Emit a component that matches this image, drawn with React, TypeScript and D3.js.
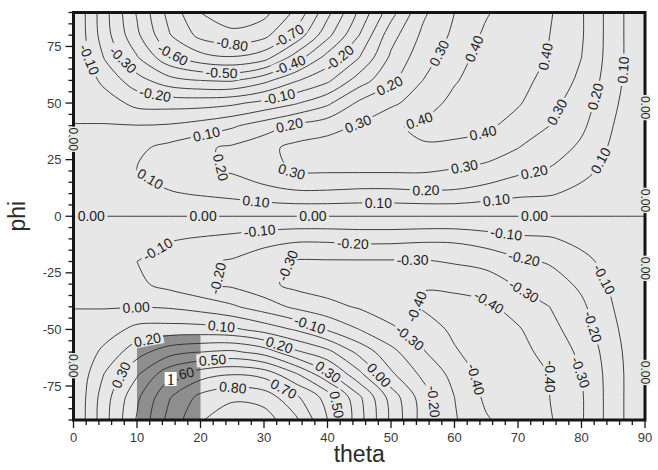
import * as d3 from 'd3'
import { useMemo } from 'react'

const WIDTH = 658
const HEIGHT = 470
const MARGIN = { left: 73.5, right: 13, top: 12.5, bottom: 50 }
const BG = '#e7e7e7'
const REGION_FILL = '#8e8e8e'
const LABEL_FONT = 14
const FONT = '"Liberation Sans", Arial, Helvetica, sans-serif'

type Pt = [number, number]

// grid the field was read on (theta across, phi down the rows)
const thetaGrid = [0, 5, 10, 15, 20, 25, 30, 35, 40, 45, 50, 55, 60, 65, 70, 75, 80, 85, 90]
const phiGrid = [90, 80, 70, 60, 50, 40, 30, 20, 10, 0, -10, -20, -30, -40, -50, -60, -70, -80, -90]

const rowP90 = [0, -0.27, -0.51, -0.73, -0.9, -0.97, -0.93, -0.78, -0.53, -0.28, -0.04, 0.18, 0.3, 0.39, 0.46, 0.41, 0.31, 0.15, 0]
const rowP80 = [0, -0.26, -0.48, -0.69, -0.83, -0.87, -0.83, -0.67, -0.43, -0.2, 0.06, 0.22, 0.32, 0.42, 0.46, 0.4, 0.31, 0.15, 0]
const rowP70 = [0, -0.21, -0.39, -0.57, -0.66, -0.69, -0.64, -0.45, -0.26, -0.1, 0.12, 0.26, 0.35, 0.45, 0.46, 0.39, 0.3, 0.15, 0]
const rowP60 = [0, -0.13, -0.26, -0.36, -0.4, -0.41, -0.33, -0.21, -0.12, 0.05, 0.18, 0.3, 0.39, 0.46, 0.44, 0.36, 0.28, 0.14, 0]
const rowP50 = [0, -0.05, -0.13, -0.14, -0.14, -0.12, -0.07, -0.01, 0.08, 0.22, 0.28, 0.35, 0.43, 0.45, 0.41, 0.33, 0.25, 0.12, 0]
const rowP40 = [0, 0.005, 0.003, 0.01, 0.04, 0.085, 0.15, 0.22, 0.26, 0.31, 0.385, 0.42, 0.43, 0.42, 0.36, 0.3, 0.22, 0.1, 0]
const rowP30 = [0, 0.05, 0.08, 0.13, 0.18, 0.22, 0.27, 0.33, 0.35, 0.37, 0.38, 0.39, 0.38, 0.35, 0.3, 0.25, 0.18, 0.08, 0]
const rowP20 = [0, 0.06, 0.1, 0.15, 0.18, 0.21, 0.26, 0.31, 0.31, 0.31, 0.31, 0.31, 0.29, 0.27, 0.22, 0.19, 0.13, 0.06, 0]
const rowP10 = [0, 0.04, 0.06, 0.09, 0.11, 0.13, 0.16, 0.18, 0.18, 0.17, 0.17, 0.18, 0.18, 0.15, 0.12, 0.11, 0.07, 0.03, 0]
const rowZero = [0, 0, 0, 0, 0, 0, 0, 0, 0, 0, 0, 0, 0, 0, 0, 0, 0, 0, 0]
const rowM10 = [0, -0.04, -0.06, -0.09, -0.11, -0.13, -0.16, -0.18, -0.18, -0.17, -0.17, -0.18, -0.18, -0.15, -0.12, -0.11, -0.07, -0.03, 0]
const rowM20 = [0, -0.06, -0.1, -0.15, -0.18, -0.21, -0.26, -0.31, -0.31, -0.31, -0.31, -0.31, -0.29, -0.27, -0.22, -0.19, -0.13, -0.06, 0]
const rowM30 = [0, -0.05, -0.08, -0.13, -0.18, -0.22, -0.27, -0.33, -0.35, -0.37, -0.38, -0.395, -0.38, -0.35, -0.29, -0.25, -0.18, -0.08, 0]
const rowM40 = [0, -0.005, -0.003, -0.01, -0.04, -0.085, -0.15, -0.22, -0.27, -0.31, -0.36, -0.41, -0.43, -0.42, -0.36, -0.3, -0.22, -0.1, 0]
const rowM50 = [0, 0.05, 0.13, 0.14, 0.14, 0.12, 0.06, -0.01, -0.11, -0.2, -0.28, -0.35, -0.42, -0.45, -0.41, -0.33, -0.25, -0.12, 0]
const rowM60 = [0, 0.13, 0.26, 0.36, 0.4, 0.42, 0.36, 0.22, 0.13, -0.03, -0.17, -0.29, -0.39, -0.45, -0.44, -0.36, -0.28, -0.14, 0]
const rowM70 = [0, 0.21, 0.39, 0.57, 0.66, 0.7, 0.67, 0.52, 0.33, 0.13, -0.08, -0.22, -0.33, -0.44, -0.46, -0.4, -0.3, -0.15, 0]
const rowM80 = [0, 0.26, 0.48, 0.69, 0.83, 0.88, 0.86, 0.72, 0.56, 0.32, 0.06, -0.15, -0.3, -0.42, -0.46, -0.4, -0.31, -0.15, 0]
const rowM90 = [0, 0.27, 0.51, 0.73, 0.89, 0.97, 0.95, 0.82, 0.6, 0.34, 0.08, -0.14, -0.29, -0.39, -0.45, -0.41, -0.31, -0.15, 0]

const field = [
  rowP90, rowP80, rowP70, rowP60, rowP50, rowP40, rowP30, rowP20, rowP10, rowZero,
  rowM10, rowM20, rowM30, rowM40, rowM50, rowM60, rowM70, rowM80, rowM90,
]

const contourLevels = [-0.9, -0.8, -0.7, -0.6, -0.5, -0.4, -0.3, -0.2, -0.1, 0, 0.1, 0.2, 0.3, 0.4, 0.5, 0.6, 0.7, 0.8, 0.9]

// [level, theta, phi] where the inline labels sit
const lineLabels: [number, number, number][] = [
  [-0.1, 2.3, 69], [-0.3, 7.5, 68.3], [-0.6, 15.6, 71.2], [-0.8, 25, 75.8], [-0.5, 23.3, 63.2],
  [-0.2, 12.8, 52.8], [-0.7, 34, 79.3], [-0.4, 34.3, 65.4], [-0.2, 42.7, 67.4], [-0.1, 32.4, 52.8],
  [0.1, 20.9, 36.7], [0.2, 34, 40.3], [0.2, 50, 56.4], [0.3, 44.8, 40.9], [0.3, 58.7, 70.5],
  [0.4, 54.5, 42], [0.4, 64.2, 72.7], [0.4, 74.4, 70.5], [0.4, 64.6, 35.5], [0.3, 76.5, 45.5],
  [0.2, 82.3, 52.8], [0.1, 86.8, 64.6], [0.3, 61.6, 21.3], [0.2, 72.6, 19], [0.1, 82.8, 24.9],
  [0.1, 66.6, 7.2], [0.2, 55.5, 11.6], [0.1, 48, 5], [0.3, 34.5, 21.3], [0.2, 21.4, 20.4],
  [0.1, 11.7, 14.6], [0.1, 28.7, 5.7],
  [0, 2.8, 0], [0, 20.4, 0], [0, 37.7, 0], [0, 72.6, 0],
  [-0.1, 13, -13.4], [-0.2, 21.7, -26.7], [0, 9.9, -41.4], [0.1, 23.3, -48.8], [0.2, 11.7, -55.4],
  [0.5, 21.9, -63.5], [0.3, 7.5, -70.1], [0.6, 16.8, -69], [0.8, 25.1, -75.3], [-0.1, 29.3, -6],
  [-0.2, 44, -11.2], [-0.3, 34.8, -23], [-0.3, 53.4, -19.3], [-0.4, 54, -39.9], [-0.1, 37.2, -48],
  [-0.3, 52.9, -53.9], [0.2, 32.5, -56.1], [0.3, 40.3, -67.9], [0, 48.7, -68.6], [0.7, 33, -76.7],
  [0.5, 41.3, -83.3], [-0.2, 56.9, -81.9], [-0.1, 68.1, -9], [-0.2, 70.8, -20.8], [-0.3, 71, -32.6],
  [-0.4, 65, -39.9], [-0.1, 83.4, -28.1], [-0.2, 81.8, -48.8], [-0.3, 79.4, -69.4], [-0.4, 74.2, -70.8],
  [-0.4, 63.9, -71.6],
]

// zero contour labels that sit on the frame [theta, phi]
const edgeLabels: Pt[] = [[0, 34], [0, -66], [90, 48], [90, 7], [90, -23], [90, -69]]

const regionTheta = [10, 20]
const regionPhi = [-90, -52.4]
const regionTag = { text: '1', theta: 15.3, phi: -71.9 }

const yTickValues = [-75, -50, -25, 0, 25, 50, 75]

const charWidth = (c: string) => (c === '.' ? 0.278 : c === '-' ? 0.333 : 0.556)
const textWidth = (s: string, size: number) => s.split('').reduce((a, c) => a + charWidth(c), 0) * size

// the zero level lies on grid lines; tip the exact zeros so the tracer keeps it on them
function zeroSafe(grid: number[][]) {
  const g = grid.map((row) => row.map((v) => (v === 0 ? -1e-6 : v)))
  const last = g[0].length - 1
  g.forEach((row) => {
    row[0] = row[1] * 1e-4
    row[last] = row[last - 1] * 1e-4
  })
  return g
}

// marching squares, segments chained into polylines
function isolines(grid: number[][], level: number) {
  const ny = grid.length
  const nx = grid[0].length
  const pos = new Map<string, Pt>()
  const segs: [string, string][] = []
  const inside = (v: number) => v >= level
  const edge = (key: string, i0: number, j0: number, i1: number, j1: number) => {
    if (!pos.has(key)) {
      const v0 = grid[j0][i0]
      const v1 = grid[j1][i1]
      const t = (level - v0) / (v1 - v0)
      pos.set(key, [
        thetaGrid[i0] + t * (thetaGrid[i1] - thetaGrid[i0]),
        phiGrid[j0] + t * (phiGrid[j1] - phiGrid[j0]),
      ])
    }
    return key
  }
  for (let j = 0; j < ny - 1; j++) {
    for (let i = 0; i < nx - 1; i++) {
      const a = grid[j][i]
      const b = grid[j][i + 1]
      const c = grid[j + 1][i + 1]
      const d = grid[j + 1][i]
      const ia = inside(a)
      const ib = inside(b)
      const ic = inside(c)
      const id = inside(d)
      const eAB = ia !== ib ? edge(`h${i},${j}`, i, j, i + 1, j) : null
      const eBC = ib !== ic ? edge(`v${i + 1},${j}`, i + 1, j, i + 1, j + 1) : null
      const eCD = ic !== id ? edge(`h${i},${j + 1}`, i, j + 1, i + 1, j + 1) : null
      const eDA = id !== ia ? edge(`v${i},${j}`, i, j, i, j + 1) : null
      const es = [eAB, eBC, eCD, eDA].filter((e): e is string => e !== null)
      if (es.length === 2) segs.push([es[0], es[1]])
      else if (es.length === 4) {
        const center = inside((a + b + c + d) / 4)
        if (ia === center) segs.push([eAB!, eBC!], [eCD!, eDA!])
        else segs.push([eDA!, eAB!], [eBC!, eCD!])
      }
    }
  }
  const adj = new Map<string, number[]>()
  segs.forEach(([p, q], k) => {
    for (const e of [p, q]) {
      if (!adj.has(e)) adj.set(e, [])
      adj.get(e)!.push(k)
    }
  })
  const used = segs.map(() => false)
  const walk = (start: string) => {
    const keys = [start]
    let cur = start
    for (;;) {
      const k = adj.get(cur)!.find((s) => !used[s])
      if (k === undefined) break
      used[k] = true
      cur = segs[k][0] === cur ? segs[k][1] : segs[k][0]
      keys.push(cur)
    }
    return keys
  }
  const out: { pts: Pt[]; closed: boolean }[] = []
  adj.forEach((list, key) => {
    if (list.length === 1 && !used[list[0]]) {
      out.push({ pts: walk(key).map((k) => pos.get(k)!), closed: false })
    }
  })
  segs.forEach((s, k) => {
    if (!used[k]) {
      const keys = walk(s[0]).slice(0, -1)
      out.push({ pts: keys.map((kk) => pos.get(kk)!), closed: true })
    }
  })
  return out
}

export default function App() {
  const innerW = WIDTH - MARGIN.left - MARGIN.right
  const innerH = HEIGHT - MARGIN.top - MARGIN.bottom
  const x = d3.scaleLinear([0, 90], [MARGIN.left, MARGIN.left + innerW])
  const y = d3.scaleLinear([-90, 90], [MARGIN.top + innerH, MARGIN.top])

  const { paths, labels } = useMemo(() => {
    const safe = zeroSafe(field)
    const open = d3.line<Pt>().x((p) => x(p[0])).y((p) => y(p[1])).curve(d3.curveCatmullRom.alpha(0.5))
    const closed = d3.line<Pt>().x((p) => x(p[0])).y((p) => y(p[1])).curve(d3.curveCatmullRomClosed.alpha(0.5))
    const byLevel = new Map<number, { pts: Pt[]; closed: boolean }[]>()
    const paths: string[] = []
    contourLevels.forEach((lv) => {
      const lines = lv === 0 ? isolines(safe, 0) : isolines(field, lv + 1e-7)
      byLevel.set(lv, lines)
      lines.forEach((l) => {
        if (l.pts.length < 2) return
        paths.push((l.closed ? closed : open)(l.pts) || '')
      })
    })

    const labels = lineLabels.map(([lv, th, ph]) => {
      const px = x(th)
      const py = y(ph)
      let best = { d: Infinity, x: px, y: py, angle: 0 }
      ;(byLevel.get(lv) || []).forEach((l) => {
        const pp = l.pts.map((p) => [x(p[0]), y(p[1])])
        const n = l.closed ? pp.length : pp.length - 1
        for (let k = 0; k < n; k++) {
          const [x0, y0] = pp[k]
          const [x1, y1] = pp[(k + 1) % pp.length]
          const dx = x1 - x0
          const dy = y1 - y0
          const len2 = dx * dx + dy * dy || 1
          const t = Math.max(0, Math.min(1, ((px - x0) * dx + (py - y0) * dy) / len2))
          const qx = x0 + t * dx
          const qy = y0 + t * dy
          const d = Math.hypot(px - qx, py - qy)
          if (d < best.d) {
            let angle = (Math.atan2(dy, dx) * 180) / Math.PI
            if (angle > 90) angle -= 180
            if (angle <= -90) angle += 180
            best = { d, x: qx, y: qy, angle }
          }
        }
      })
      const text = lv.toFixed(2)
      const inRegion =
        th > regionTheta[0] + 2 && th < regionTheta[1] - 2 && ph > regionPhi[0] && ph < regionPhi[1] - 6
      return { ...best, text, w: textWidth(text, LABEL_FONT) + 5, fill: inRegion ? REGION_FILL : BG }
    })
    return { paths, labels }
  }, [])

  const xMajor = x.ticks(10)
  const xMinor = x.ticks(45)
  const yMinor = y.ticks(36)

  return (
    <svg
      width={WIDTH}
      height={HEIGHT}
      style={{ position: 'absolute', left: 0, top: 0, background: '#fff' }}
      fontFamily={FONT}
    >
      <defs>
        <clipPath id="plot-clip">
          <rect x={MARGIN.left} y={MARGIN.top} width={innerW} height={innerH} />
        </clipPath>
      </defs>
      <rect x={MARGIN.left} y={MARGIN.top} width={innerW} height={innerH} fill={BG} />
      <rect
        x={x(regionTheta[0])}
        y={y(regionPhi[1])}
        width={x(regionTheta[1]) - x(regionTheta[0])}
        height={y(regionPhi[0]) - y(regionPhi[1])}
        fill={REGION_FILL}
      />
      <g clipPath="url(#plot-clip)" fill="none" stroke="#2b2b2b" strokeWidth={0.9}>
        {paths.map((d, i) => (
          <path key={i} d={d} />
        ))}
      </g>
      <g clipPath="url(#plot-clip)">
        {labels.map((l, i) => (
          <g key={i} transform={`translate(${l.x},${l.y}) rotate(${l.angle})`}>
            <rect x={-l.w / 2} y={-6.5} width={l.w} height={13} fill={l.fill} />
            <text textAnchor="middle" dy="0.36em" fontSize={LABEL_FONT} fill="#1e1e1e">
              {l.text}
            </text>
          </g>
        ))}
      </g>
      <g transform={`translate(${x(regionTag.theta)},${y(regionTag.phi)})`}>
        <rect x={-6} y={-7} width={12} height={14} fill="#fff" />
        <text textAnchor="middle" dy="0.35em" fontSize={16} fontFamily='"Liberation Serif", "Times New Roman", serif' fill="#111">
          {regionTag.text}
        </text>
      </g>
      <rect
        x={MARGIN.left}
        y={MARGIN.top}
        width={innerW}
        height={innerH}
        fill="none"
        stroke="#151515"
        strokeWidth={3}
      />
      <g stroke="#151515" strokeWidth={1.3}>
        {xMinor.map((t) => (
          <line key={`xm${t}`} x1={x(t)} x2={x(t)} y1={y(-90)} y2={y(-90) + (t % 10 === 0 ? 8 : 5)} />
        ))}
        {yMinor.map((t) => (
          <line
            key={`ym${t}`}
            x1={x(0)}
            x2={x(0) - (yTickValues.includes(t) ? 8 : 5)}
            y1={y(t)}
            y2={y(t)}
          />
        ))}
      </g>
      <g fontSize={13} fill="#3a3a3a">
        {xMajor.map((t) => (
          <text key={`xl${t}`} x={x(t)} y={y(-90) + 22} textAnchor="middle">
            {t}
          </text>
        ))}
        {yTickValues.map((t) => (
          <text key={`yl${t}`} x={x(0) - 12} y={y(t)} dy="0.35em" textAnchor="end">
            {t}
          </text>
        ))}
      </g>
      <text x={x(45)} y={462} textAnchor="middle" fontSize={23} fill="#2a2a2a">
        theta
      </text>
      <text
        transform={`translate(25,${y(0)}) rotate(-90)`}
        textAnchor="middle"
        fontSize={23}
        fill="#2a2a2a"
      >
        phi
      </text>
      {edgeLabels.map(([th, ph], i) => {
        const w = textWidth('0.00', 12) + 2
        return (
          <g key={`e${i}`} transform={`translate(${x(th)},${y(ph)}) rotate(90)`}>
            <rect x={-w / 2} y={-5} width={w} height={10} fill={BG} />
            <text textAnchor="middle" dy="0.36em" fontSize={12} fill="#1e1e1e">
              0.00
            </text>
          </g>
        )
      })}
    </svg>
  )
}
